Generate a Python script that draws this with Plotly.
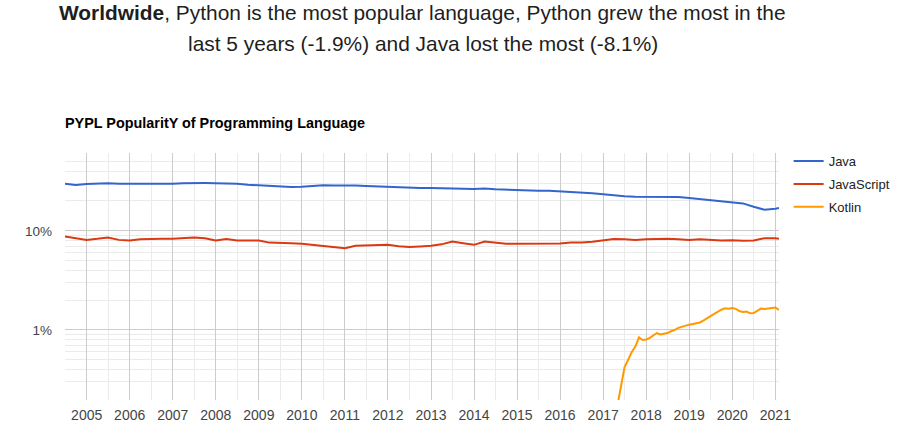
import pandas as pd
import plotly.graph_objects as go

# ---------------- data ----------------
quarter_dates = list(pd.date_range("2004-07-01", "2021-01-01", freq="3MS").strftime("%Y-%m-%d")) + ["2021-02-01"]

java = [29.9, 29.0, 29.6, 29.9, 30.2, 29.9, 29.9, 29.6, 29.9, 30.1,
        29.9, 30.2, 30.4, 30.3, 30.2, 30.2, 29.9, 29.2, 28.7, 28.5,
        27.9, 27.6, 27.8, 28.5, 28.8, 28.7, 28.8, 28.6, 28.3, 28.0,
        27.6, 27.5, 27.3, 27.1, 27.0, 26.7, 26.7, 26.5, 26.4, 26.7,
        26.2, 26.0, 25.7, 25.2, 25.4, 25.4, 25.1, 24.6, 24.2, 23.9,
        23.4, 22.8, 22.3, 22.1, 22.1, 22.2, 22.0, 21.9, 21.4, 20.9,
        20.3, 19.8, 19.4, 18.9, 17.5, 16.3, 16.7, 17.0]

javascript = [8.75, 8.43, 8.10, 8.30, 8.56, 8.10, 7.98, 8.20, 8.30, 8.30,
              8.30, 8.40, 8.56, 8.43, 7.98, 8.25, 7.98, 7.98, 7.98, 7.60,
              7.60, 7.50, 7.39, 7.20, 7.00, 6.75, 6.68, 7.05, 7.10, 7.20,
              7.22, 7.00, 6.85, 6.95, 7.05, 7.30, 7.80, 7.50, 7.22, 7.80,
              7.60, 7.39, 7.39, 7.39, 7.50, 7.39, 7.45, 7.60, 7.60, 7.75,
              7.98, 8.25, 8.20, 8.10, 8.20, 8.30, 8.30, 8.20, 8.10, 8.20,
              8.10, 7.98, 8.05, 7.95, 8.00, 8.43, 8.43, 8.30]

kotlin_dates = list(pd.date_range("2017-05-01", "2021-02-01", freq="MS").strftime("%Y-%m-%d"))
kotlin = [0.17, 0.28, 0.42, 0.50, 0.60, 0.68, 0.84, 0.79, 0.80, 0.83,
          0.88, 0.93, 0.90, 0.91, 0.93, 0.97, 1.00, 1.05, 1.08, 1.11,
          1.13, 1.15, 1.17, 1.19, 1.24, 1.32, 1.38, 1.45, 1.53, 1.60,
          1.65, 1.64, 1.66, 1.63, 1.55, 1.52, 1.53, 1.47, 1.48, 1.55,
          1.64, 1.63, 1.64, 1.66, 1.68, 1.59]

series = [
    ("Java", quarter_dates, java, "#3366cc"),
    ("JavaScript", quarter_dates, javascript, "#dc3912"),
    ("Kotlin", kotlin_dates, kotlin, "#ff9900"),
]

y_tick_vals = [1, 10]
y_tick_text = ["1%", "10%"]
y_minor_vals = [0.2, 0.3, 0.4, 0.5, 0.6, 0.7, 0.8, 0.9,
                2, 3, 4, 5, 6, 7, 8, 9, 20, 30, 40, 50, 60]

title_line1 = "<b>Worldwide</b>, Python is the most popular language, Python grew the most in the"
title_line2 = "last 5 years (-1.9%) and Java lost the most (-8.1%)"
chart_title = "<b>PYPL PopularitY of Programming Language</b>"

# ---------------- figure ----------------
FONT = "Arial, 'Liberation Sans', sans-serif"
fig = go.Figure()
for i, (name, xs, ys, color) in enumerate(series):
    fig.add_trace(go.Scatter(x=xs, y=ys, name=name, mode="lines",
                             legendgroup=f"g{i}",
                             line=dict(color=color, width=2)))

title_font = dict(family=FONT, size=20.9, color="#1e1e1e")
fig.update_layout(
    width=908, height=437,
    margin=dict(l=65, r=125, t=153, b=37),
    paper_bgcolor="white", plot_bgcolor="white",
    font=dict(family=FONT, size=13, color="#444"),
    legend=dict(x=1.0135, xanchor="left", y=1.028, yanchor="top",
                font=dict(family=FONT, size=13, color="#222"),
                tracegroupgap=3, itemwidth=30, bgcolor="rgba(0,0,0,0)"),
    annotations=[
        dict(text=title_line1, x=0.5014, xref="paper", xanchor="center",
             y=1.567, yref="paper", yanchor="middle", showarrow=False, font=title_font),
        dict(text=title_line2, x=0.5014, xref="paper", xanchor="center",
             y=1.445, yref="paper", yanchor="middle", showarrow=False, font=title_font),
        dict(text=chart_title, x=0, xref="paper", xanchor="left", xshift=-2,
             y=1.12, yref="paper", yanchor="middle", showarrow=False,
             font=dict(family=FONT, size=14.4, color="#000")),
    ],
    showlegend=True,
)

fig.update_xaxes(
    type="date", range=["2004-07-01", "2021-02-01"],
    tick0="2005-01-01", dtick="M12", tickformat="%Y",
    showgrid=True, gridcolor="#cccccc", gridwidth=1,
    minor=dict(dtick="M6", tick0="2005-01-01", showgrid=True, gridcolor="#ebebeb"),
    showline=False, zeroline=False, ticks="", ticklabelstandoff=5,
    tickfont=dict(family=FONT, size=14, color="#444"),
)
fig.update_yaxes(
    type="log", range=[-0.707, 1.785],
    tickmode="array", tickvals=y_tick_vals, ticktext=y_tick_text,
    showgrid=True, gridcolor="#cccccc", gridwidth=1,
    minor=dict(tickmode="array", tickvals=y_minor_vals, showgrid=True, gridcolor="#ebebeb"),
    showline=False, zeroline=False, ticks="", ticklabelstandoff=12,
    tickfont=dict(family=FONT, size=13.5, color="#444"),
)

fig.write_html("out.html")
